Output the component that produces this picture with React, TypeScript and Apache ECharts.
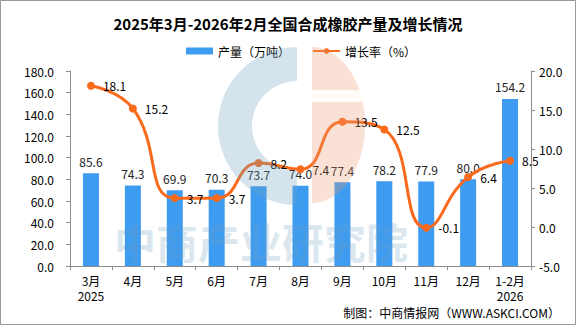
import React, { useEffect, useRef } from "react";
import * as echarts from "echarts";

const categories = ["3月\n2025", "4月", "5月", "6月", "7月", "8月", "9月", "10月", "11月", "12月", "1-2月\n2026"];
const output = [85.6, 74.3, 69.9, 70.3, 73.7, 74.0, 77.4, 78.2, 77.9, 80.0, 154.2];
const growth = [18.1, 15.2, 3.7, 3.7, 8.2, 7.4, 13.5, 12.5, -0.1, 6.4, 8.5];
const leftTicks = { min: 0, max: 180, interval: 20 };
const rightTicks = { min: -5, max: 20, interval: 5 };

const FONT = "'Noto Sans CJK SC', 'Noto Sans', sans-serif";

export default function App() {
  const ref = useRef<HTMLDivElement>(null);
  useEffect(() => {
    document.body.style.margin = "0";
    const chart = echarts.init(ref.current!, null, { renderer: "svg" });
    chart.setOption({
      animation: false,
      backgroundColor: "#fff",
      textStyle: { fontFamily: FONT },
      title: {
        text: "2025年3月-2026年2月全国合成橡胶产量及增长情况",
        left: "center",
        top: 11,
        textStyle: { fontSize: 15, fontWeight: "bold", color: "#000", fontFamily: FONT },
      },
      legend: {
        top: 40,
        left: 181,
        itemWidth: 27,
        itemHeight: 7,
        itemGap: 22,
        textStyle: { fontSize: 12, color: "#000", fontFamily: FONT },
        data: [
          { name: "产量（万吨）", icon: "rect" },
          { name: "增长率（%）" },
        ],
      },
      grid: { left: 70, right: 45, top: 71, bottom: 59, containLabel: false },
      xAxis: {
        type: "category",
        data: categories,
        axisLine: { lineStyle: { color: "#8c8c8c" } },
        axisTick: { show: true, length: 4, lineStyle: { color: "#8c8c8c" } },
        axisLabel: { color: "#000", fontSize: 12, margin: 7, lineHeight: 15, interval: 0, fontFamily: FONT },
      },
      yAxis: [
        {
          type: "value",
          ...leftTicks,
          axisLine: { show: true, lineStyle: { color: "#8c8c8c" } },
          axisTick: { show: true, length: 4, lineStyle: { color: "#8c8c8c" } },
          splitLine: { show: false },
          axisLabel: { color: "#000", fontSize: 12, margin: 16, formatter: (v: number) => v.toFixed(1), fontFamily: FONT },
        },
        {
          type: "value",
          ...rightTicks,
          axisLine: { show: true, lineStyle: { color: "#8c8c8c" } },
          axisTick: { show: true, length: 4, lineStyle: { color: "#8c8c8c" } },
          splitLine: { show: false },
          axisLabel: { color: "#000", fontSize: 12, margin: 8, formatter: (v: number) => v.toFixed(1), fontFamily: FONT },
        },
      ],
      series: [
        {
          name: "产量（万吨）",
          type: "bar",
          data: output,
          barWidth: 16,
          itemStyle: { color: "#3d9bf0" },
          label: {
            show: true,
            position: "top",
            distance: 6,
            color: "#222",
            fontSize: 12,
            fontFamily: FONT,
            formatter: (p: any) => Number(p.value).toFixed(1),
          },
          z: 2,
        },
        {
          name: "增长率（%）",
          type: "line",
          yAxisIndex: 1,
          data: growth,
          smooth: 0.5,
          symbol: "circle",
          symbolSize: 8,
          lineStyle: { color: "#fa6a1d", width: 3 },
          itemStyle: { color: "#fa6a1d" },
          label: {
            show: true,
            position: "right",
            distance: 8,
            color: "#000",
            fontSize: 12,
            fontFamily: FONT,
            formatter: (p: any) => Number(p.value).toFixed(1),
          },
          z: 3,
        },
      ],
      graphic: [
        {
          type: "sector",
          z: 100,
          silent: true,
          shape: { cx: 297, cy: 126, r: 79, r0: 45, startAngle: Math.PI / 2, endAngle: (Math.PI * 3) / 2 },
          style: { fill: "rgba(112,162,192,0.3)" },
        },
        {
          type: "sector",
          z: 100,
          silent: true,
          shape: { cx: 312, cy: 125, r: 78, r0: 0, startAngle: -Math.PI / 2, endAngle: Math.PI / 2 },
          scaleX: 0.68,
          originX: 312,
          originY: 125,
          style: { fill: "rgba(235,155,118,0.3)" },
        },
        {
          type: "rect",
          z: 101,
          silent: true,
          shape: { x: 311, y: 90, width: 60, height: 12 },
          style: { fill: "rgba(255,255,255,0.85)" },
        },
        {
          type: "text",
          z: 100,
          silent: true,
          left: 114,
          top: 219,
          style: {
            text: "中商产业研究院",
            fontSize: 42,
            fontWeight: "bold",
            fontFamily: FONT,
            fill: "rgba(112,162,192,0.25)",
          },
        },
        {
          type: "text",
          right: 16,
          top: 306,
          style: {
            text: "制图：中商情报网（WWW.ASKCI.COM）",
            fontSize: 12,
            fontFamily: FONT,
            fill: "#000",
          },
        },
        {
          type: "rect",
          z: 200,
          silent: true,
          shape: { x: 0.5, y: 0.5, width: 575, height: 324 },
          style: { fill: "none", stroke: "#999", lineWidth: 1 },
        },
      ],
    });
    return () => chart.dispose();
  }, []);
  return <div ref={ref} style={{ width: 576, height: 325 }} />;
}
